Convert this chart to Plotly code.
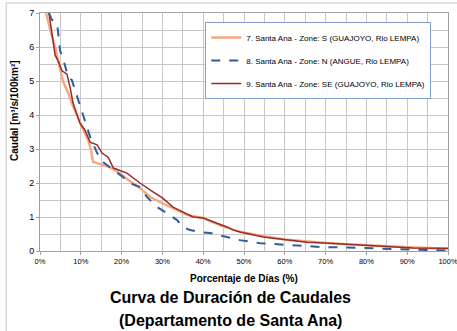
import plotly.graph_objects as go

pct_s7 = [1.5, 2.5, 3.7, 4.9, 5.6, 6.9, 8.1, 10.3, 11.8, 12.5, 13.0, 15.0, 17, 19.6, 21.6, 24.5, 27, 29.4, 32.6, 36, 40, 44, 46, 48, 50, 55, 60, 65, 70, 75, 80, 85, 90, 95, 100]
q_s7 = [7.0, 6.5, 6.0, 5.4, 5.0, 4.65, 4.25, 3.65, 3.26, 2.97, 2.62, 2.55, 2.47, 2.29, 2.09, 1.85, 1.59, 1.44, 1.26, 1.06, 0.97, 0.76, 0.68, 0.60, 0.55, 0.43, 0.34, 0.28, 0.24, 0.20, 0.17, 0.13, 0.10, 0.08, 0.06]

pct_s8 = [2.2, 2.9, 4.2, 4.9, 6.1, 6.9, 7.8, 9.1, 10.3, 11.5, 12.3, 14, 15.4, 18, 20.3, 22, 24.5, 26.2, 28.7, 31, 33.6, 35, 36.8, 39, 41.7, 45.8, 49, 54, 60.5, 68.6, 78.4, 89, 100]
q_s8 = [7.0, 6.8, 6.7, 5.9, 5.47, 5.1, 5.03, 4.53, 4.06, 3.6, 3.35, 2.88, 2.62, 2.38, 2.18, 2.0, 1.88, 1.59, 1.29, 1.12, 0.91, 0.7, 0.62, 0.56, 0.53, 0.41, 0.32, 0.23, 0.18, 0.12, 0.09, 0.04, 0.01]

pct_s9 = [2.2, 3.2, 3.7, 4.4, 5.4, 6.6, 7.4, 8.1, 9.8, 11, 12.3, 14, 15.2, 16.7, 18, 21.3, 24.5, 27.7, 30, 32.6, 35, 37.5, 40, 43.4, 46, 47.3, 49, 54.7, 60.5, 65.4, 71, 78.4, 85, 91.4, 100]
q_s9 = [7.0, 6.2, 5.76, 5.6, 5.3, 5.2, 4.8, 4.35, 3.76, 3.56, 3.2, 3.12, 2.88, 2.76, 2.44, 2.29, 2.0, 1.74, 1.56, 1.29, 1.15, 1.0, 0.97, 0.82, 0.7, 0.62, 0.56, 0.41, 0.32, 0.26, 0.23, 0.18, 0.12, 0.09, 0.08]

names = ["7. Santa Ana - Zone: S (GUAJOYO, Rio LEMPA)",
         "8. Santa Ana - Zone: N (ANGUE, Rio LEMPA)",
         "9. Santa Ana - Zone: SE (GUAJOYO, Rio LEMPA)"]

FONT = "Liberation Sans, Arial, sans-serif"

fig = go.Figure()
fig.add_trace(go.Scatter(x=pct_s7, y=q_s7, mode="lines", name=names[0], legendgroup="a",
                         line=dict(color="#f6a77f", width=2.4)))
fig.add_trace(go.Scatter(x=pct_s8, y=q_s8, mode="lines", name=names[1], legendgroup="b",
                         line=dict(color="#2f5d9b", width=2, dash="dash")))
fig.add_trace(go.Scatter(x=pct_s9, y=q_s9, mode="lines", name=names[2], legendgroup="c",
                         line=dict(color="#9a2b2b", width=1.5)))

fig.update_layout(
    width=457, height=331,
    margin=dict(l=40, r=9, t=13, b=80, autoexpand=False),
    paper_bgcolor="white", plot_bgcolor="white",
    font=dict(family=FONT, size=9, color="black"),
    showlegend=True,
    legend=dict(x=0.405, y=0.962, xanchor="left", yanchor="top",
                bgcolor="white", bordercolor="#7f9fd0", borderwidth=1,
                font=dict(family=FONT, size=8), tracegroupgap=4),
    xaxis=dict(range=[0, 100], dtick=10, ticksuffix="%", showgrid=True, gridcolor="#c8c8c8",
               gridwidth=1, minor=dict(dtick=5, showgrid=True, gridcolor="#c8c8c8"),
               showline=True, linecolor="#a0a0a0", mirror=True, zeroline=False,
               ticks="outside", ticklen=3, tickcolor="#a0a0a0", ticklabeloverflow="allow",
               tickfont=dict(family=FONT, size=7.5)),
    yaxis=dict(range=[0, 7], dtick=1, showgrid=True, gridcolor="#c8c8c8",
               minor=dict(dtick=0.5, showgrid=True, gridcolor="#c8c8c8"),
               showline=True, linecolor="#a0a0a0", mirror=True, zeroline=False,
               ticks="outside", ticklen=3, tickcolor="#a0a0a0",
               tickfont=dict(family=FONT, size=9)),
    shapes=[
        dict(type="line", xref="paper", yref="paper", x0=-0.083, x1=1.1, y0=1.042, y1=1.042,
             line=dict(color="#c0c0c0", width=1)),
        dict(type="line", xref="paper", yref="paper", x0=-0.083, x1=-0.083, y0=1.042, y1=-0.5,
             line=dict(color="#c0c0c0", width=1)),
    ],
    annotations=[
        dict(text="<b>Porcentaje de Días (%)</b>", xref="paper", yref="paper",
             x=0.5, y=-0.114, xanchor="center", yanchor="middle", showarrow=False,
             font=dict(family=FONT, size=10)),
        dict(text="<b>Caudal [m³/s/100km²]</b>", xref="paper", yref="paper",
             x=-0.064, y=0.592, xanchor="center", yanchor="middle", showarrow=False,
             textangle=-90, font=dict(family=FONT, size=10)),
        dict(text="<b>Curva de Duración de Caudales</b>", xref="paper", yref="paper",
             x=0.468, y=-0.197, xanchor="center", yanchor="middle", showarrow=False,
             font=dict(family=FONT, size=16)),
        dict(text="<b>(Departamento de Santa Ana)</b>", xref="paper", yref="paper",
             x=0.468, y=-0.290, xanchor="center", yanchor="middle", showarrow=False,
             font=dict(family=FONT, size=16)),
    ],
)

fig.write_html("out.html")
